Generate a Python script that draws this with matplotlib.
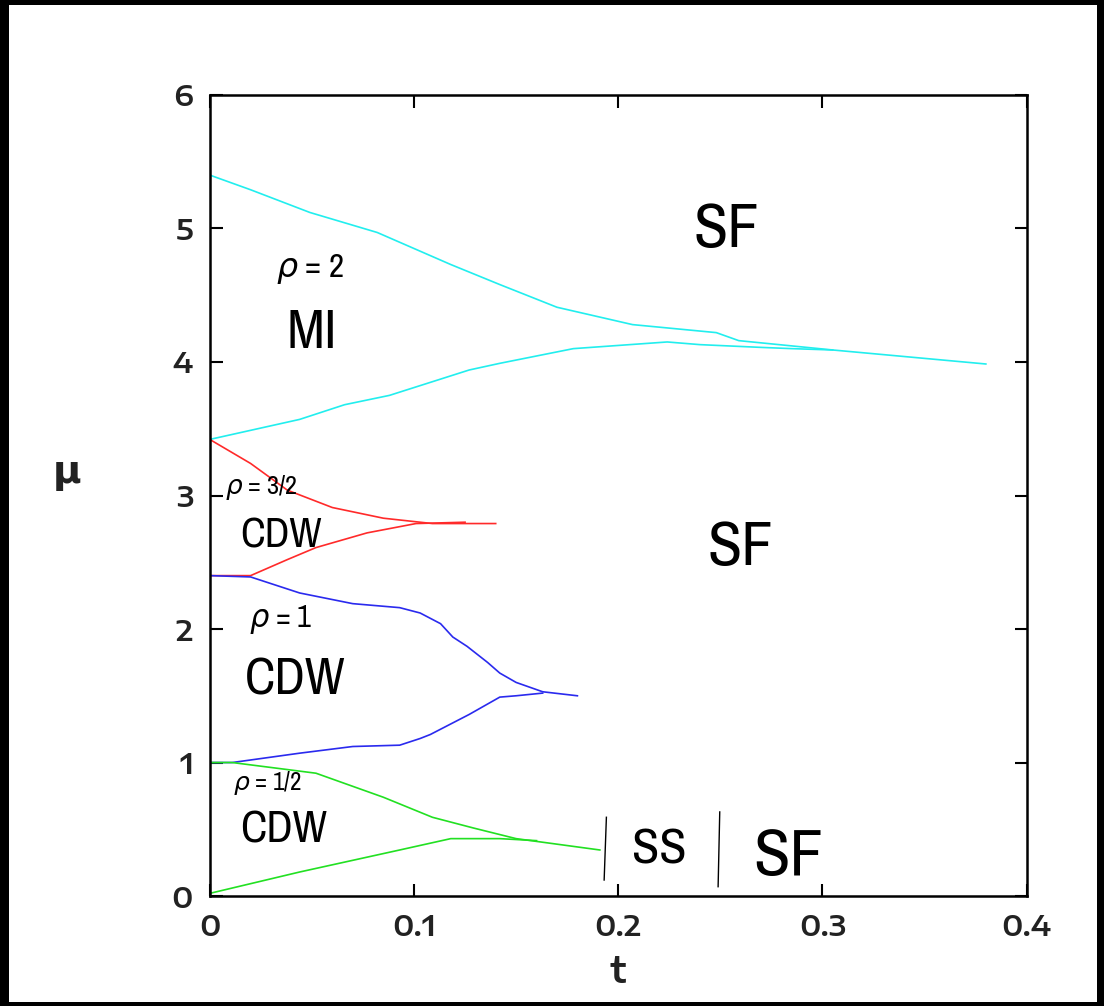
import matplotlib
matplotlib.use('Agg')
import matplotlib.pyplot as plt
from matplotlib.patches import Rectangle

# rho = 2 lobe (cyan)
t_c_up = [0, 0.02, 0.049, 0.082, 0.118, 0.142, 0.170, 0.207, 0.248, 0.259, 0.305, 0.38]
mu_c_up = [5.40, 5.29, 5.12, 4.97, 4.73, 4.58, 4.41, 4.28, 4.22, 4.16, 4.09, 3.985]
t_c_lo = [0, 0.044, 0.066, 0.088, 0.127, 0.142, 0.178, 0.224, 0.240, 0.269, 0.285, 0.305]
mu_c_lo = [3.42, 3.57, 3.68, 3.75, 3.94, 3.99, 4.10, 4.15, 4.13, 4.11, 4.10, 4.09]

# rho = 3/2 lobe (red)
t_r_up = [0, 0.02, 0.038, 0.060, 0.085, 0.109, 0.125, 0.14]
mu_r_up = [3.42, 3.24, 3.04, 2.91, 2.83, 2.79, 2.79, 2.79]
t_r_lo = [0, 0.02, 0.038, 0.052, 0.077, 0.101, 0.125]
mu_r_lo = [2.40, 2.40, 2.52, 2.61, 2.72, 2.79, 2.80]

# rho = 1 lobe (blue)
t_b_up = [0, 0.02, 0.044, 0.070, 0.093, 0.103, 0.113, 0.119, 0.126, 0.136, 0.142, 0.150, 0.163, 0.18]
mu_b_up = [2.40, 2.39, 2.27, 2.19, 2.16, 2.12, 2.04, 1.94, 1.87, 1.75, 1.67, 1.60, 1.53, 1.50]
t_b_lo = [0, 0.011, 0.044, 0.070, 0.093, 0.103, 0.108, 0.127, 0.142, 0.150, 0.163]
mu_b_lo = [1.0, 1.0, 1.07, 1.12, 1.13, 1.18, 1.21, 1.36, 1.49, 1.50, 1.52]

# rho = 1/2 lobe (green)
t_g_up = [0, 0.011, 0.052, 0.085, 0.109, 0.129, 0.150, 0.191]
mu_g_up = [1.0, 1.0, 0.92, 0.74, 0.59, 0.51, 0.43, 0.345]
t_g_lo = [0, 0.044, 0.093, 0.118, 0.142, 0.16]
mu_g_lo = [0.02, 0.18, 0.345, 0.43, 0.43, 0.415]

# SS region boundaries
t_ss1 = [0.1942, 0.1931]
mu_ss1 = [0.59, 0.12]
t_ss2 = [0.2497, 0.2489]
mu_ss2 = [0.63, 0.07]

xticks = [0, 0.1, 0.2, 0.3, 0.4]
xticklabels = ['0', '0.1', '0.2', '0.3', '0.4']
yticks = [0, 1, 2, 3, 4, 5, 6]

narrow = ['Liberation Sans Narrow', 'Archivo Narrow', 'DejaVu Sans']
wide = ['Encode Sans Expanded', 'DejaVu Sans']
plt.rcParams['mathtext.fontset'] = 'dejavusans'

fig = plt.figure(figsize=(11.04, 10.06), dpi=100)
ax = fig.add_axes([0.190, 0.1093, 0.740, 0.7963])

lw = 1.2
ax.plot(t_c_up, mu_c_up, color='#22eeee', lw=lw)
ax.plot(t_c_lo, mu_c_lo, color='#22eeee', lw=lw)
ax.plot(t_r_up, mu_r_up, color='#ff2a2a', lw=lw)
ax.plot(t_r_lo, mu_r_lo, color='#ff2a2a', lw=lw)
ax.plot(t_b_up, mu_b_up, color='#2a2aee', lw=lw)
ax.plot(t_b_lo, mu_b_lo, color='#2a2aee', lw=lw)
ax.plot(t_g_up, mu_g_up, color='#22e022', lw=lw)
ax.plot(t_g_lo, mu_g_lo, color='#22e022', lw=lw)
ax.plot(t_ss1, mu_ss1, color='black', lw=1.0)
ax.plot(t_ss2, mu_ss2, color='black', lw=1.0)

ax.set_xlim(0, 0.4)
ax.set_ylim(0, 6)
ax.set_xticks(xticks)
ax.set_xticklabels(xticklabels)
ax.set_yticks(yticks)
for s in ax.spines.values():
    s.set_linewidth(1.8)
ax.tick_params(direction='in', length=9, width=1.5, top=True, right=True,
               labelsize=21, pad=12)
for lab in ax.get_xticklabels() + ax.get_yticklabels():
    lab.set_family(wide)
    lab.set_fontweight(600)
    lab.set_color('#222222')
ax.set_xlabel('t', fontsize=26, family=wide, fontweight=600, color='#222222', labelpad=0)
ax.xaxis.set_label_coords(0.5, -0.072)
ax.set_ylabel('μ', fontsize=28, family='DejaVu Sans', fontweight='bold', rotation=0, color='#222222')
ax.yaxis.set_label_coords(-0.175, 0.505)

# region labels
ax.text(0.253, 4.99, 'SF', fontsize=45, family=narrow, ha='center', va='center')
ax.text(0.260, 2.61, 'SF', fontsize=45, family=narrow, ha='center', va='center')
ax.text(0.283, 0.29, 'SF', fontsize=48, family=narrow, ha='center', va='center')
ax.text(0.220, 0.345, 'SS', fontsize=36, family=narrow, ha='center', va='center')
ax.text(0.050, 4.22, 'MI', fontsize=40, family=narrow, ha='center', va='center')
ax.text(0.049, 4.70, r'$\rho$ = 2', fontsize=24, family=narrow, ha='center', va='center')
ax.text(0.025, 3.06, r'$\rho$ = 3/2', fontsize=19, family=narrow, ha='center', va='center')
ax.text(0.035, 2.70, 'CDW', fontsize=30, family=narrow, ha='center', va='center')
ax.text(0.035, 2.07, r'$\rho$ = 1', fontsize=22, family=narrow, ha='center', va='center')
ax.text(0.042, 1.62, 'CDW', fontsize=37, family=narrow, ha='center', va='center')
ax.text(0.028, 0.85, r'$\rho$ = 1/2', fontsize=18, family=narrow, ha='center', va='center')
ax.text(0.036, 0.49, 'CDW', fontsize=32, family=narrow, ha='center', va='center')

# black frame around the whole picture
W, H = 1104, 1006
for x0, y0, w, h in [(0, 0, 9, H), (0, 0, W, 4), (0, H - 5, W, 5), (W - 7, 0, 7, H)]:
    fig.add_artist(Rectangle((x0 / W, y0 / H), w / W, h / H, transform=fig.transFigure,
                             facecolor='black', edgecolor='none'))

fig.savefig('out.png', dpi=100)
